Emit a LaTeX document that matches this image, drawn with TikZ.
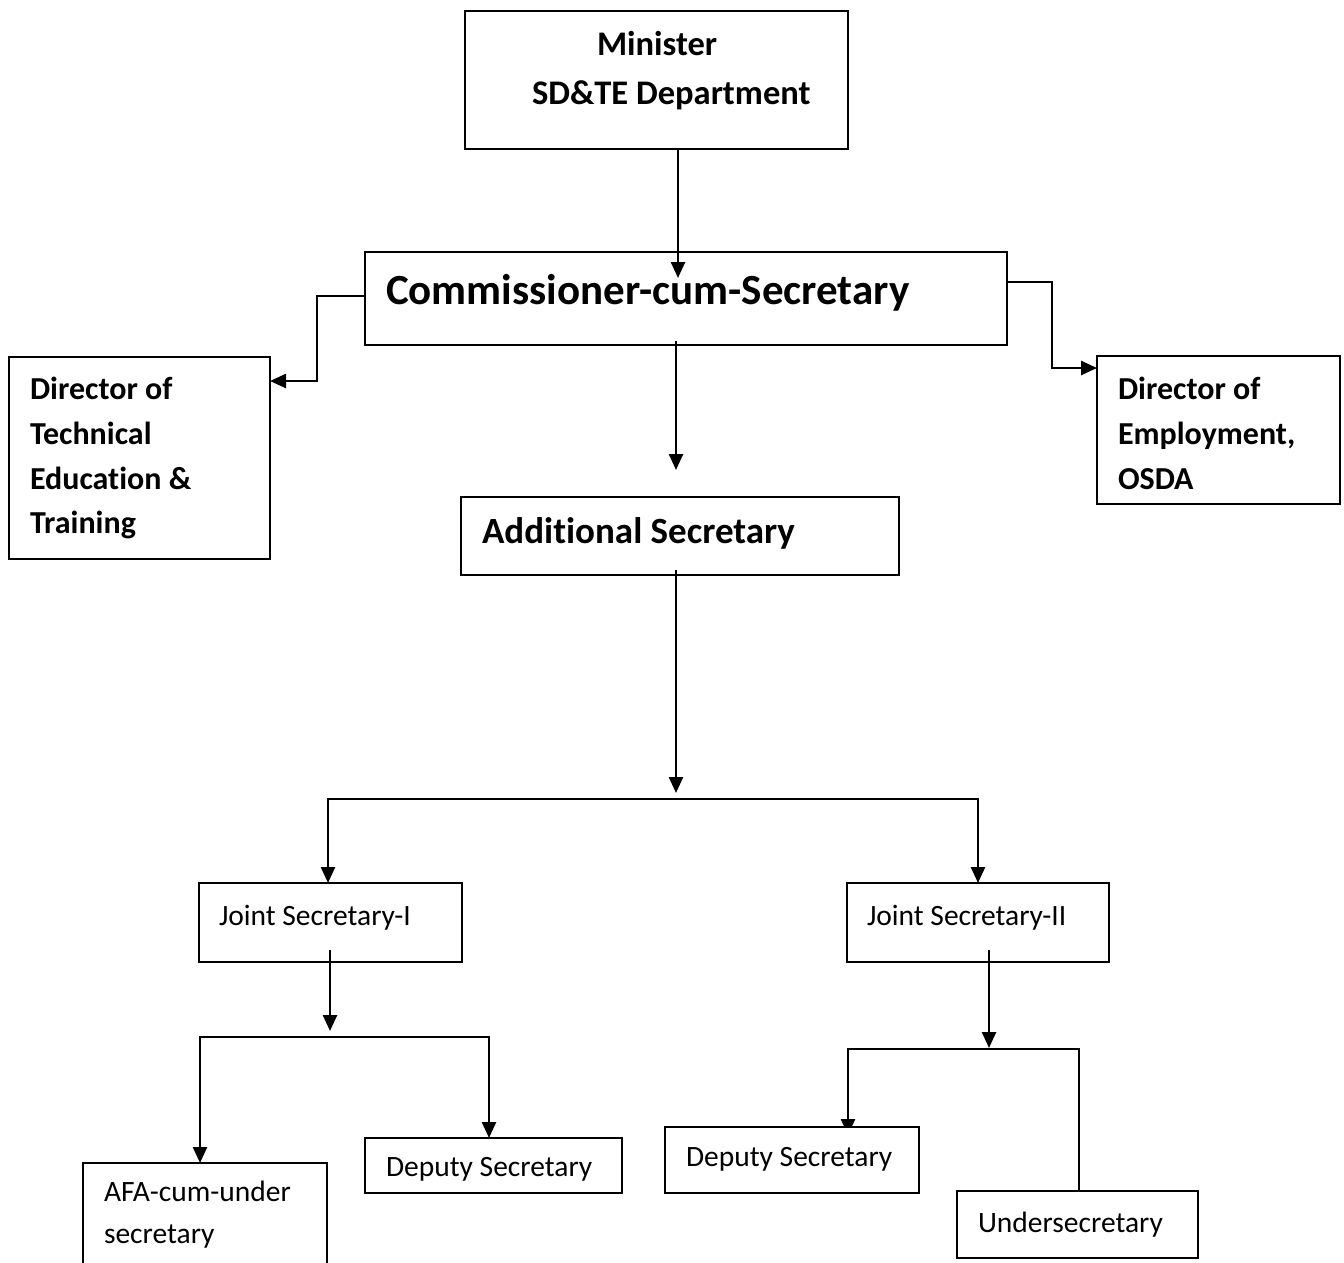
\documentclass[tikz,border=0pt]{standalone}
\usepackage{fontspec}
\setmainfont{Carlito}[Ligatures=CommonOff]
\usetikzlibrary{arrows.meta}
\pgfdeclarelayer{bg}
\pgfsetlayers{bg,main}
\begin{document}
\begin{tikzpicture}[x=1pt,y=-1pt,
  box/.style={draw, line width=2.2pt, fill=white, rectangle, anchor=north west, inner sep=0pt, outer sep=0pt},
  lbl/.style={anchor=base west, inner sep=0pt, outer sep=0pt},
  bb/.style={font=\bfseries\fontsize{32}{38}\selectfont},
  rr/.style={font=\fontsize{29.5}{34}\selectfont},
  arr/.style={line width=2.5pt, -{Triangle[length=16pt,width=14pt]}},
  ln/.style={line width=2.5pt}]
\useasboundingbox (0,0) rectangle (1344,1262);
\clip (0,0) rectangle (1344,1262);
% boxes
\node[box, minimum width=383pt, minimum height=138pt] (min) at (465,11) {};
\node[box, minimum width=642pt, minimum height=93pt] (com) at (365,252) {};
\node[box, minimum width=261pt, minimum height=202pt] (dte) at (9,357) {};
\node[box, minimum width=243pt, minimum height=148pt] (dem) at (1097,356) {};
\node[box, minimum width=438pt, minimum height=78pt] (add) at (461,497) {};
\node[box, minimum width=263pt, minimum height=79pt] (js1) at (199,883) {};
\node[box, minimum width=262pt, minimum height=79pt] (js2) at (847,883) {};
\node[box, minimum width=244pt, minimum height=120pt] (afa) at (83,1163) {};
\node[box, minimum width=257pt, minimum height=55pt] (ds1) at (365,1138) {};
\node[box, minimum width=254pt, minimum height=66pt] (ds2) at (665,1127) {};
\node[box, minimum width=241pt, minimum height=67pt] (us) at (957,1191) {};
% texts
\node[lbl, font=\bfseries\fontsize{34.5}{40}\selectfont] (tmin1) at (597,55) {Minister};
\node[lbl, font=\bfseries\fontsize{34.5}{40}\selectfont] (tmin2) at (532,104) {SD\&TE Department};
\node[lbl, font=\bfseries\fontsize{43}{50}\selectfont] (tcom) at (386,304) {Commissioner-cum-Secretary};
\node[lbl, bb] (tdte1) at (30,399) {Director of};
\node[lbl, bb] (tdte2) at (30,444) {Technical};
\node[lbl, bb] (tdte3) at (30,489) {Education \&};
\node[lbl, bb] (tdte4) at (30,533) {Training};
\node[lbl, bb] (tdem1) at (1118,399) {Director of};
\node[lbl, bb] (tdem2) at (1118,444) {Employment,};
\node[lbl, bb] (tdem3) at (1118,489) {OSDA};
\node[lbl, font=\bfseries\fontsize{37}{42}\selectfont] (tadd) at (482,543) {Additional Secretary};
\node[lbl, rr] (tjs1) at (219,925) {Joint Secretary-I};
\node[lbl, rr] (tjs2) at (867,925) {Joint Secretary-II};
\node[lbl, rr] (tafa1) at (104,1201) {AFA-cum-under};
\node[lbl, rr] (tafa2) at (104,1243) {secretary};
\node[lbl, rr] (tds1) at (386,1176) {Deputy Secretary};
\node[lbl, rr] (tds2) at (686,1166) {Deputy Secretary};
\node[lbl, rr] (tus) at (978,1232) {Undersecretary};
% connector points
\coordinate (c1) at (678,278);
\coordinate (l1) at (317,296);
\coordinate (r1) at (1052,282);
\coordinate (s2) at (676,341);
\coordinate (e2) at (676,470);
\coordinate (a1) at (676,570);
\coordinate (a2) at (676,793);
\coordinate (h1) at (676,799);
\coordinate (j1) at (330,950);
\coordinate (j1e) at (330,1031);
\coordinate (h2) at (330,1037);
\coordinate (j2) at (989,950);
\coordinate (j2e) at (989,1048);
\coordinate (h3) at (989,1049);
% connectors
\draw[arr] (min.south -| c1) -- (c1);
\draw[arr] (com.west |- l1) -- (l1) |- ([yshift=-24pt]dte.north east);
\draw[arr] (com.east |- r1) -- (r1) |- ([yshift=-12pt]dem.north west);
\draw[arr] (s2) -- (e2);
\draw[arr] (a1) -- (a2);
\draw[arr] (h1) -| ([xshift=129pt]js1.north west);
\draw[arr] (h1) -| (js2.north);
\draw[arr] (j1) -- (j1e);
\draw[arr] (h2) -| ([xshift=117pt]afa.north west);
\draw[arr] (h2) -| ([xshift=124pt]ds1.north west);
\draw[arr] (j2) -- (j2e);
\begin{pgfonlayer}{bg}
\draw[arr] (h3) -| ([xshift=183pt,yshift=-8pt]ds2.north west);
\end{pgfonlayer}
\draw[ln] (h3) -| ([xshift=122pt]us.north west);
\end{tikzpicture}
\end{document}
